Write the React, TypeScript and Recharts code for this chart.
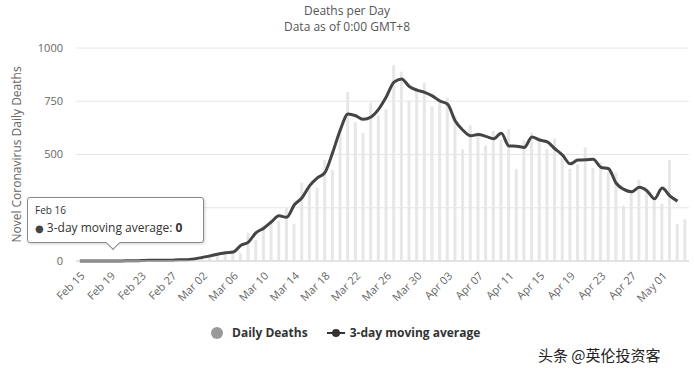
import { ComposedChart, Bar, Line, XAxis, YAxis, CartesianGrid, Tooltip } from 'recharts'

// categories: Feb 15 .. May 04
const dates = [
  'Feb 15', 'Feb 16', 'Feb 17', 'Feb 18', 'Feb 19', 'Feb 20', 'Feb 21', 'Feb 22', 'Feb 23', 'Feb 24',
  'Feb 25', 'Feb 26', 'Feb 27', 'Feb 28', 'Feb 29',
  'Mar 01', 'Mar 02', 'Mar 03', 'Mar 04', 'Mar 05', 'Mar 06', 'Mar 07', 'Mar 08', 'Mar 09', 'Mar 10',
  'Mar 11', 'Mar 12', 'Mar 13', 'Mar 14', 'Mar 15', 'Mar 16', 'Mar 17', 'Mar 18', 'Mar 19', 'Mar 20',
  'Mar 21', 'Mar 22', 'Mar 23', 'Mar 24', 'Mar 25', 'Mar 26', 'Mar 27', 'Mar 28', 'Mar 29', 'Mar 30', 'Mar 31',
  'Apr 01', 'Apr 02', 'Apr 03', 'Apr 04', 'Apr 05', 'Apr 06', 'Apr 07', 'Apr 08', 'Apr 09', 'Apr 10',
  'Apr 11', 'Apr 12', 'Apr 13', 'Apr 14', 'Apr 15', 'Apr 16', 'Apr 17', 'Apr 18', 'Apr 19', 'Apr 20',
  'Apr 21', 'Apr 22', 'Apr 23', 'Apr 24', 'Apr 25', 'Apr 26', 'Apr 27', 'Apr 28', 'Apr 29', 'Apr 30',
  'May 01', 'May 02', 'May 03', 'May 04',
]

const dailyDeaths = [
  0, 0, 0, 0, 0, 0, 1, 1, 1, 4,
  3, 2, 5, 4, 8,
  5, 18, 27, 28, 41, 49, 36, 133, 97, 168,
  196, 189, 250, 175, 368, 349, 345, 475, 427, 627,
  793, 651, 601, 743, 683, 712, 919, 889, 756, 812, 837,
  727, 760, 766, 681, 525, 636, 604, 542, 610, 570,
  619, 431, 566, 602, 578, 525, 575, 482, 433, 454,
  534, 437, 464, 420, 415, 260, 333, 382, 323, 285,
  269, 474, 174, 195,
]

const movingAvg = [
  0, 0, 0, 0, 0, 0, 1, 1, 2, 3,
  3, 3, 4, 6, 6,
  10, 17, 24, 32, 39, 42, 73, 89, 133, 154,
  184, 212, 205, 264, 297, 354, 390, 416, 510, 616,
  690, 682, 665, 676, 713, 771, 840, 855, 819, 802, 792,
  775, 751, 736, 657, 614, 588, 594, 585, 574, 600,
  540, 539, 533, 582, 568, 559, 527, 497, 456, 474,
  475, 478, 440, 433, 365, 336, 325, 346, 330, 292,
  343, 306, 281, null,
]

const yTicks = [0, 250, 500, 750, 1000]

const chartData = dates.map((d, i) => ({ date: d, deaths: dailyDeaths[i], avg: movingAvg[i] }))

const FONT = '"Open Sans", "DejaVu Sans", sans-serif'

function TipBox({ active, payload, label }: any) {
  if (!active || !payload || !payload.length) return null
  const p = payload.find((x: any) => x.dataKey === 'avg')
  return (
    <div
      style={{
        position: 'relative',
        width: 177,
        height: 46,
        boxSizing: 'border-box',
        background: '#fff',
        border: '1px solid #8a8a8a',
        borderRadius: 3,
        boxShadow: '1px 1px 3px rgba(0,0,0,0.18)',
        fontFamily: FONT,
        color: '#333',
        padding: '6px 7px',
      }}
    >
      <div style={{ fontSize: 10, lineHeight: '13px' }}>{label}</div>
      <div style={{ fontSize: 12, lineHeight: '17px', marginTop: 2, whiteSpace: 'nowrap' }}>
        <span style={{ color: '#444', fontSize: 10 }}>●</span> 3-day moving average: <b>{p ? p.value : ''}</b>
      </div>
      <div
        style={{
          position: 'absolute',
          left: 80,
          bottom: -6,
          width: 9,
          height: 9,
          background: '#fff',
          borderRight: '1px solid #8a8a8a',
          borderBottom: '1px solid #8a8a8a',
          transform: 'rotate(45deg)',
        }}
      />
    </div>
  )
}

export default function App() {
  return (
    <div style={{ position: 'relative', width: 694, height: 377, background: '#fff', fontFamily: FONT }}>
      <style>{'body{margin:0}'}</style>
      <div style={{ position: 'absolute', top: 4, left: 0, width: 694, textAlign: 'center', fontSize: 12, color: '#555', lineHeight: '13px' }}>
        Deaths per Day
      </div>
      <div style={{ position: 'absolute', top: 20, left: 0, width: 694, textAlign: 'center', fontSize: 12, color: '#555', lineHeight: '13px' }}>
        Data as of 0:00 GMT+8
      </div>

      <ComposedChart width={694} height={377} data={chartData} margin={{ top: 48, right: 5, left: 0, bottom: 0 }}>
        <CartesianGrid vertical={false} stroke="#e6e6e6" />
        <XAxis
          dataKey="date"
          interval={3}
          height={116}
          angle={-45}
          textAnchor="end"
          tickLine={false}
          tickMargin={4}
          axisLine={{ stroke: '#d6d6d6' }}
          tick={{ fill: '#666', fontSize: 11, fontFamily: FONT }}
        />
        <YAxis
          width={76}
          domain={[0, 1000]}
          ticks={yTicks}
          axisLine={false}
          tickLine={false}
          tickMargin={7}
          tick={{ fill: '#666', fontSize: 11, fontFamily: FONT }}
          label={{
            value: 'Novel Coronavirus Daily Deaths',
            angle: -90,
            position: 'insideLeft',
            offset: 17,
            style: { textAnchor: 'middle', fill: '#666', fontSize: 12, fontFamily: FONT },
          }}
        />
        <Tooltip
          content={<TipBox />}
          defaultIndex={1}
          position={{ x: 27, y: 197 }}
          cursor={false}
          isAnimationActive={false}
        />
        <Bar dataKey="deaths" name="Daily Deaths" fill="#e7e7e7" barSize={3} isAnimationActive={false} />
        <Line
          dataKey="avg"
          name="3-day moving average"
          type="monotone"
          stroke="#444"
          strokeWidth={3}
          dot={false}
          activeDot={false}
          connectNulls={false}
          isAnimationActive={false}
        />
      </ComposedChart>

      {/* legend */}
      <div style={{ position: 'absolute', top: 324, left: 211, display: 'flex', alignItems: 'center', fontSize: 12, fontWeight: 'bold', color: '#333', whiteSpace: 'nowrap' }}>
        <span style={{ display: 'inline-block', width: 12, height: 12, borderRadius: 6, background: '#999', marginRight: 9 }} />
        <span>Daily Deaths</span>
        <svg width={18} height={12} style={{ marginLeft: 19, marginRight: 5 }}>
          <line x1={0} y1={6} x2={18} y2={6} stroke="#333" strokeWidth={2} />
          <circle cx={9} cy={6} r={4} fill="#333" />
        </svg>
        <span>3-day moving average</span>
      </div>

      {/* watermark */}
      <div style={{ position: 'absolute', top: 344, left: 538, fontSize: 15, color: '#222', fontFamily: '"Noto Sans CJK SC", sans-serif', textShadow: '0 0 2px #fff', whiteSpace: 'nowrap' }}>
        头条 @英伦投资客
      </div>
    </div>
  )
}
